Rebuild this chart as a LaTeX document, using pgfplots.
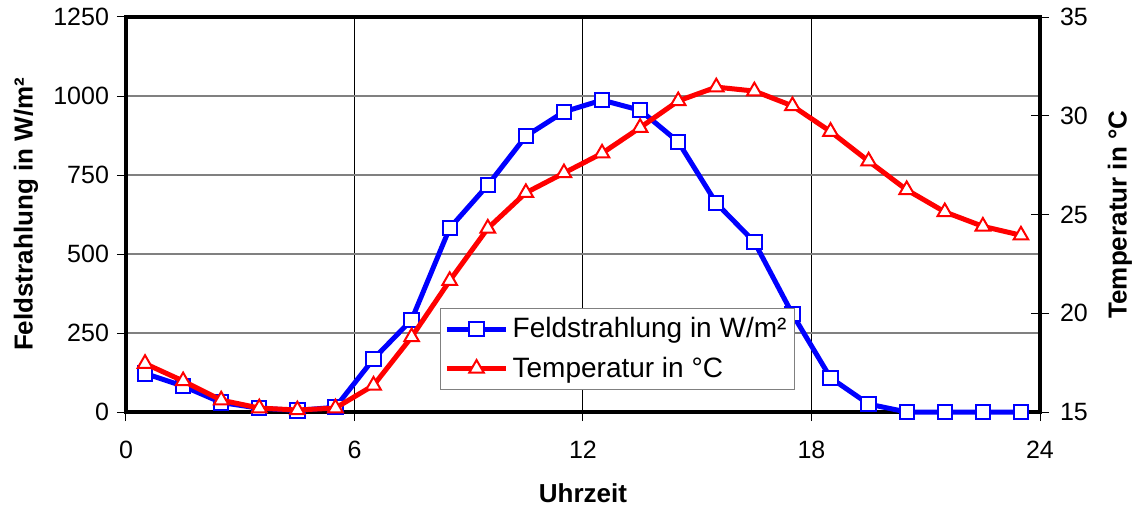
\documentclass[border=0pt]{standalone}
\usepackage{pgfplots}
\pgfplotsset{compat=1.18}
\usepackage{fontspec}
\setmainfont{Liberation Sans}
\definecolor{gridgray}{RGB}{128,128,128}
\pgfplotstableread{
x rad
0.5 122
1.5 82
2.5 30
3.5 12
4.5 5
5.5 15
6.5 168
7.5 292
8.5 582
9.5 718
10.5 873
11.5 950
12.5 987
13.5 955
14.5 855
15.5 661
16.5 538
17.5 310
18.5 108
19.5 25
20.5 0
21.5 0
22.5 0
23.5 0
}\radtab
\pgfplotstableread{
x temp
0.5 17.45
1.5 16.57
2.5 15.6
3.5 15.2
4.5 15.1
5.5 15.2
6.5 16.35
7.5 18.8
8.5 21.65
9.5 24.3
10.5 26.1
11.5 27.1
12.5 28.1
13.5 29.4
14.5 30.75
15.5 31.45
16.5 31.25
17.5 30.5
18.5 29.2
19.5 27.7
20.5 26.25
21.5 25.13
22.5 24.4
23.5 23.95
}\temptab
\begin{document}
\begin{tikzpicture}
\pgfplotsset{
  common/.style={
    scale only axis, width=457pt, height=197.5pt,
    xmin=0, xmax=24,
    ticklabel style={font=\fontsize{12.5}{14}\selectfont},
    /pgf/number format/assume math mode=true,
    /pgf/number format/1000 sep={},
    axis line style={line width=2pt},
    major tick style={black, line width=0.5pt},
    clip=false,
  },
  radstyle/.style={blue, line width=2.5pt, mark=square*, mark size=3.6pt,
    mark options={fill=white, draw=blue, line width=1pt}},
  tempstyle/.style={red, line width=2.5pt, mark=triangle*, mark size=4.2pt,
    mark options={fill=white, draw=red, line width=1pt}},
}
\begin{axis}[common,
  ymin=0, ymax=1250, ytick={0,250,...,1250},
  xtick={0,6,...,24},
  tick align=outside, major tick length=4.5pt,
  xtick pos=bottom, ytick pos=left,
  ymajorgrids, xmajorgrids,
  y grid style={gridgray, line width=0.6pt},
  x grid style={black, line width=0.5pt},
  xticklabel style={yshift=-6.5pt},
  yticklabel style={xshift=-0.5pt},
  xlabel={\bfseries Uhrzeit},
  ylabel={\bfseries Feldstrahlung in W/m²},
  label style={font=\fontsize{13}{15}\selectfont},
  xlabel style={at={([yshift=-40.5pt]axis description cs:0.5,0)}, anchor=center},
  ylabel style={at={([xshift=-50pt]axis description cs:0,0.5)}, anchor=center},
]
\coordinate (bl) at (rel axis cs:0,0);
\coordinate (tr) at (rel axis cs:1,1);
\addplot[radstyle] table[x=x, y=rad] {\radtab};
\end{axis}
\begin{axis}[common,
  ymin=15, ymax=35, ytick={15,20,...,35},
  axis x line=none, axis y line*=right,
  tick align=center, major tick length=9pt,
  yticklabel style={xshift=2pt},
  ylabel={\bfseries Temperatur in °C},
  label style={font=\fontsize{13}{15}\selectfont},
  ylabel style={at={([xshift=40pt]axis description cs:1,0.5)}, anchor=center, rotate=0},
  legend style={at={(rel axis cs:0.3435,0.2633)}, anchor=north west,
    draw=gridgray, line width=0.5pt, fill=white,
    font=\fontsize{14}{16}\selectfont, row sep=4pt,
    inner xsep=2pt, inner ysep=2.5pt},
  legend cell align=left,
  legend image code/.code={
    \draw[#1, mark repeat=2, mark phase=2] plot coordinates {(0cm,0cm) (0.52cm,0cm) (1.04cm,0cm)};},
]
\addlegendimage{radstyle}
\addlegendentry{Feldstrahlung in W/m²}
\addplot[tempstyle] table[x=x, y=temp] {\temptab};
\addlegendentry{Temperatur in °C}
\end{axis}
\pgfresetboundingbox
\path ([xshift=-63pt,yshift=-49pt]bl) rectangle ([xshift=51pt,yshift=8.5pt]tr);
\end{tikzpicture}
\end{document}
